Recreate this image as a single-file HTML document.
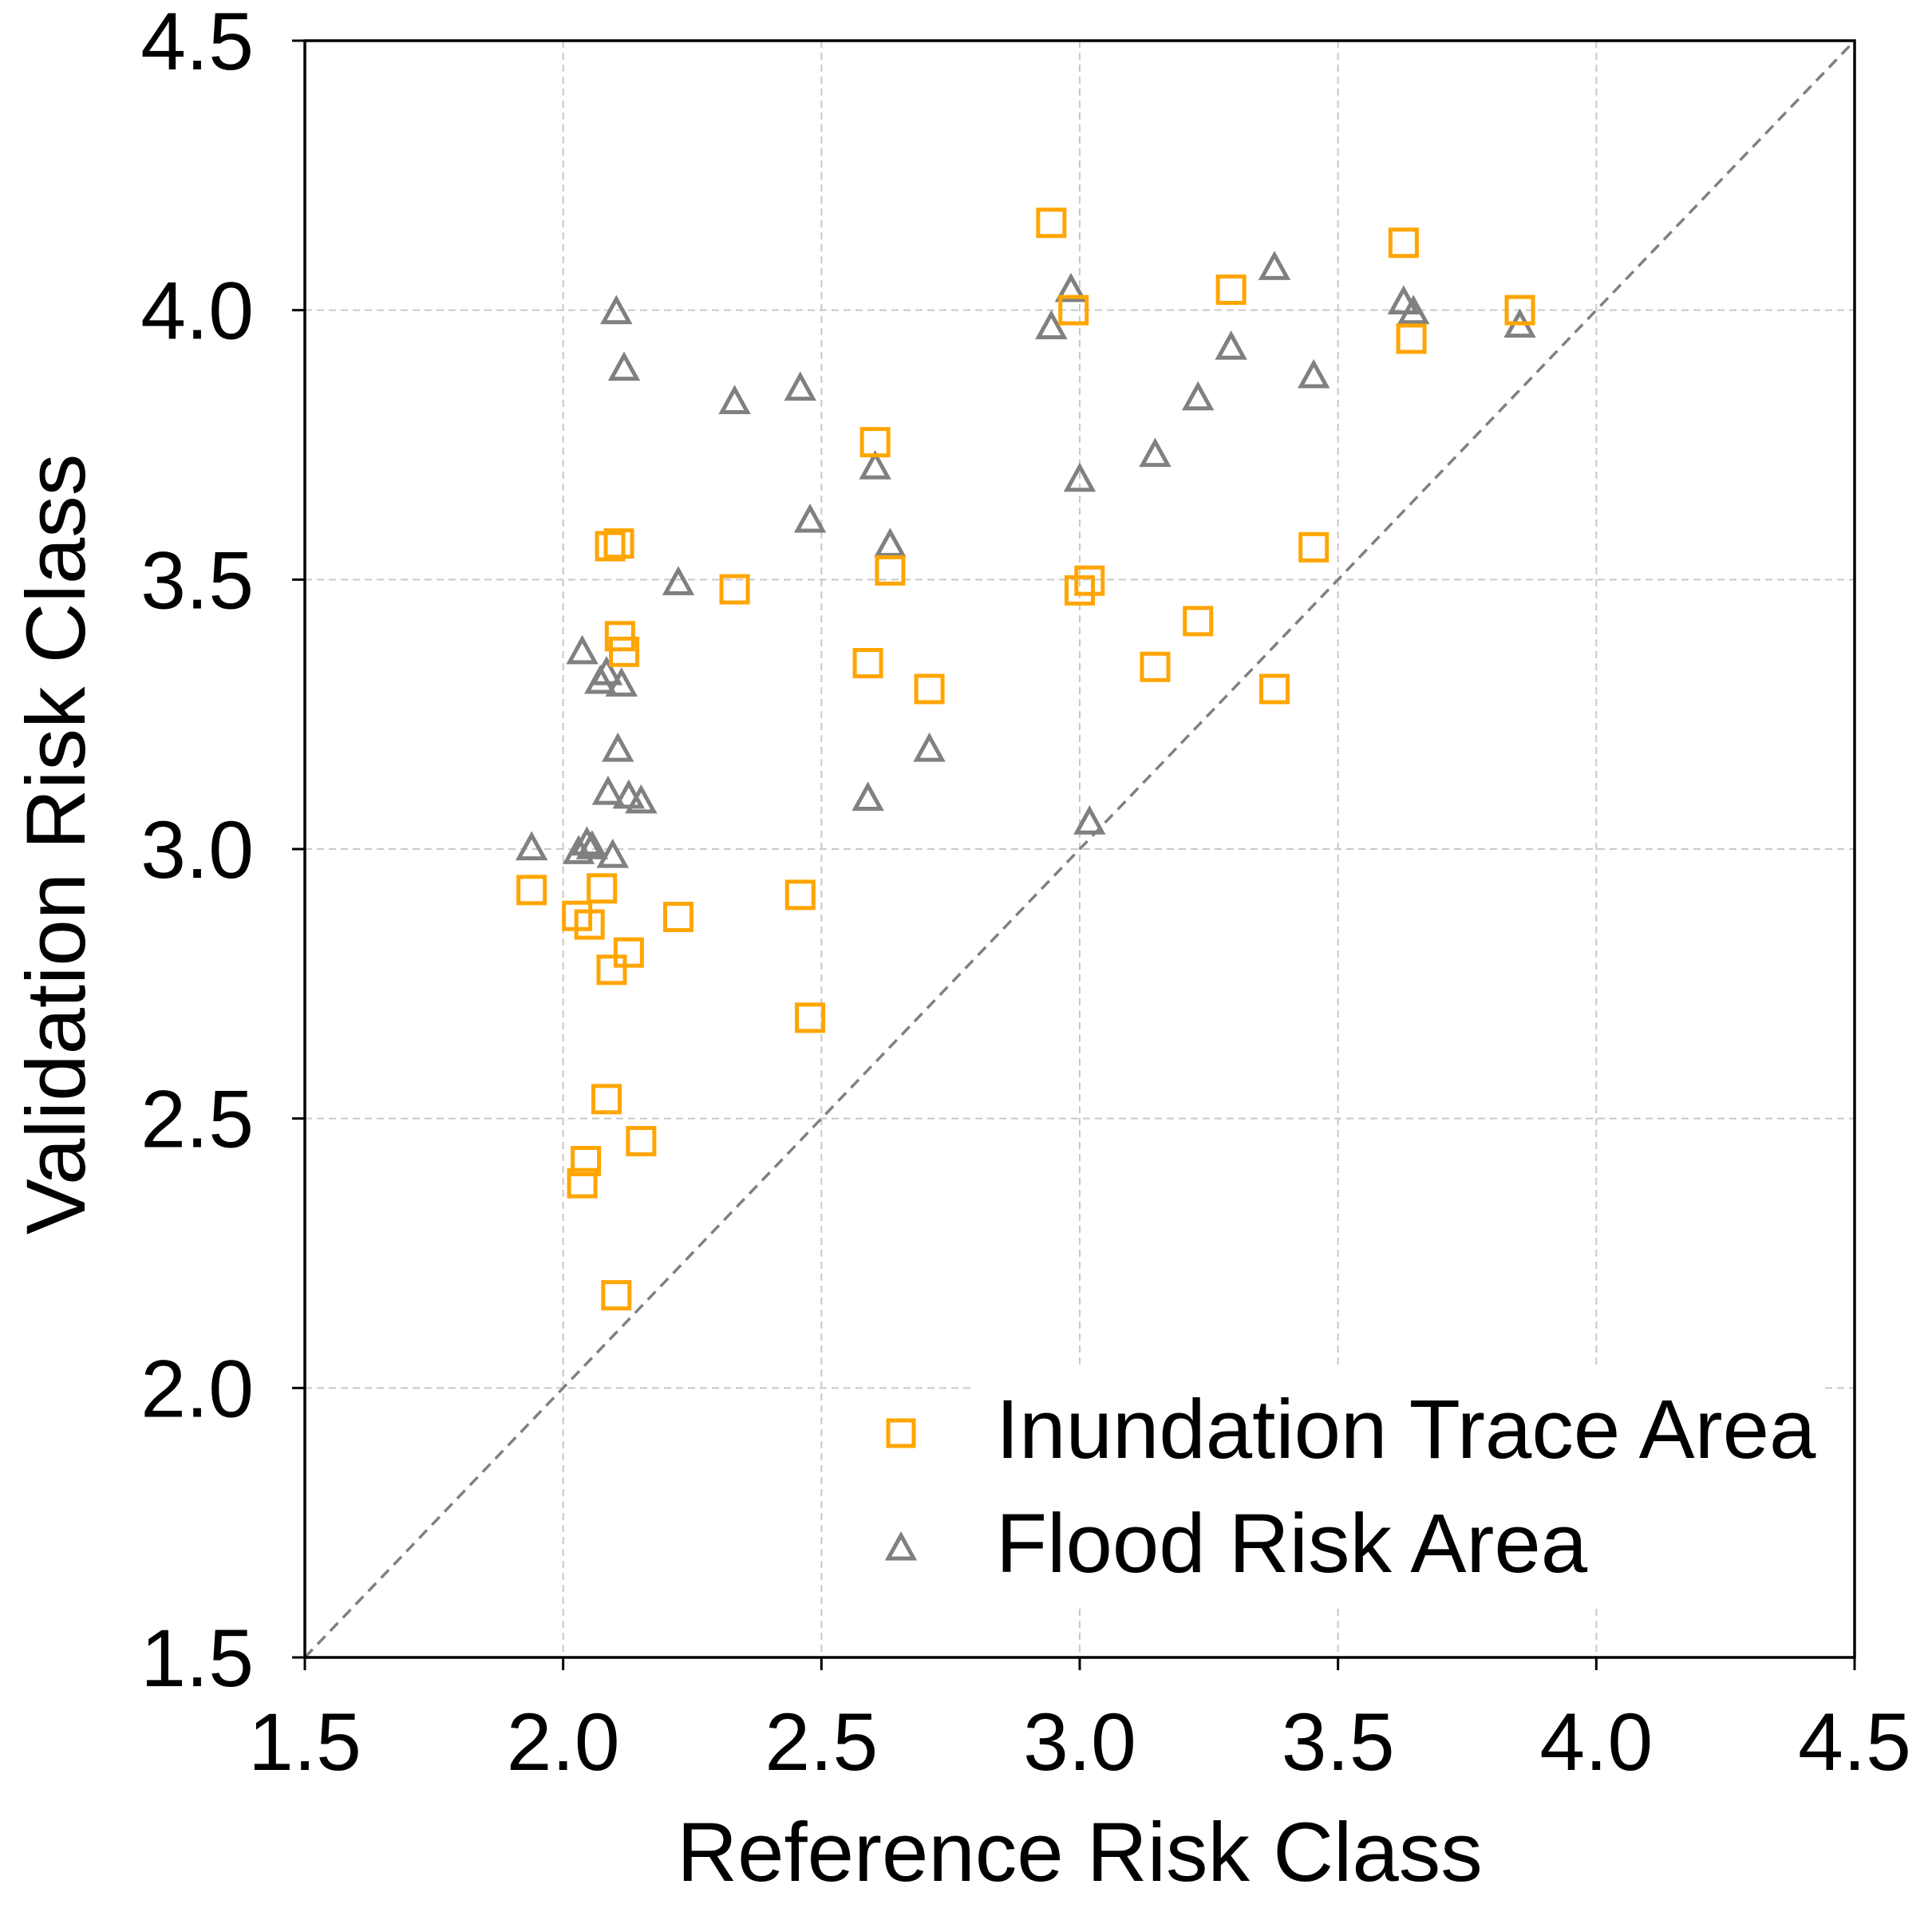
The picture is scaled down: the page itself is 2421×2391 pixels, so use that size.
<!DOCTYPE html>
<html><head><meta charset="utf-8"><style>
html,body{margin:0;padding:0;background:#fff;}
svg text{font-family:"Liberation Sans",Arial,sans-serif;fill:#000;}
</style></head><body>
<svg id="chart" width="2421" height="2386" viewBox="0 0 2421 2386" xmlns="http://www.w3.org/2000/svg">
<g id="grid"></g>
<line x1="382" y1="2077" x2="2324" y2="51" stroke="#808080" stroke-width="3.5" stroke-dasharray="14,9"/>
<rect x="1220" y="1713" width="1065" height="298" fill="#fff"/>
<g id="marks"></g>
<rect x="382" y="51" width="1942" height="2026" fill="none" stroke="#000" stroke-width="3.5"/>
<g id="ticks"></g>
<text x="1353" y="2357" font-size="105" text-anchor="middle">Reference Risk Class</text>
<text transform="translate(106,1058) rotate(-90)" font-size="105" text-anchor="middle">Validation Risk Class</text>
<g>
  <rect x="1113" y="1780" width="32" height="32" fill="none" stroke="#FFA500" stroke-width="5"/>
  <text x="1248" y="1827" font-size="105">Inundation Trace Area</text>
  <polygon points="1129,1924 1145,1953 1113,1953" fill="none" stroke="#808080" stroke-width="5"/>
  <text x="1248" y="1970" font-size="105">Flood Risk Area</text>
</g>
</svg>
<script>
const ticks = [1.5, 2.0, 2.5, 3.0, 3.5, 4.0, 4.5];
const tickLabels = ["1.5","2.0","2.5","3.0","3.5","4.0","4.5"];
const inundationX = [2.945,3.627,3.293,2.988,3.852,3.642,2.604,2.091,2.108,2.332,2.633,3.453,3.0,3.019,2.11,2.118,3.229,2.59,3.146,2.709,3.377,1.939,2.075,2.027,2.051,2.223,2.459,2.094,2.127,2.478,2.084,2.151,2.044,2.037,2.103];
const inundationY = [4.162,4.125,4.038,4.0,4.0,3.947,3.755,3.562,3.567,3.482,3.517,3.56,3.48,3.498,3.395,3.366,3.423,3.345,3.338,3.297,3.297,2.924,2.927,2.876,2.86,2.874,2.915,2.776,2.808,2.687,2.536,2.458,2.421,2.38,2.172];
const floodX = [2.103,2.118,2.332,2.459,2.983,2.945,3.377,3.627,3.646,3.852,3.293,3.453,3.229,3.146,3.0,2.604,2.478,2.633,2.223,2.037,2.072,2.084,2.113,2.106,2.087,2.127,2.151,2.59,2.709,3.019,1.939,2.03,2.046,2.056,2.096];
const floodY = [3.997,3.892,3.83,3.855,4.038,3.969,4.079,4.015,3.997,3.972,3.931,3.878,3.837,3.732,3.686,3.709,3.61,3.565,3.494,3.366,3.311,3.327,3.306,3.185,3.105,3.098,3.089,3.094,3.185,3.05,3.002,2.995,3.011,3.004,2.988];

const NS = "http://www.w3.org/2000/svg";
const X0=382, X1=2324, Y0=2077, Y1=51;
function sx(v){return X0+(v-1.5)/3*(X1-X0);}
function sy(v){return Y0-(v-1.5)/3*(Y0-Y1);}
function mk(tag, attrs, parent){const e=document.createElementNS(NS,tag);for(const k in attrs)e.setAttribute(k,attrs[k]);parent.appendChild(e);return e;}

const grid=document.getElementById('grid'), tk=document.getElementById('ticks'), marks=document.getElementById('marks');
ticks.forEach((t,i)=>{
  if(i>0 && i<ticks.length-1){
    const gv=mk('line',{x1:sx(t),y1:Y1,x2:sx(t),y2:Y0,stroke:'#c8c8c8','stroke-width':2,'stroke-dasharray':'9,6'},grid);
    
    
    const gh=mk('line',{x1:X0,y1:sy(t),x2:X1,y2:sy(t),stroke:'#c8c8c8','stroke-width':2,'stroke-dasharray':'9,6'},grid);
    
    
  }
  const xt=mk('line',{x1:sx(t),y1:Y0,x2:sx(t),y2:Y0+16,stroke:'#000','stroke-width':3},tk);
  
  
  const yt=mk('line',{x1:X0-16,y1:sy(t),x2:X0,y2:sy(t),stroke:'#000','stroke-width':3},tk);
  
  
  const xl=mk('text',{x:sx(t),y:2218,'font-size':102,'text-anchor':'middle'},tk);
  xl.textContent=tickLabels[i];
  
  
  const yl=mk('text',{x:318,y:sy(t)+36,'font-size':102,'text-anchor':'end'},tk);
  yl.textContent=tickLabels[i];
  
  
});
floodX.forEach((v,i)=>{
  const cx=sx(v), cy=sy(floodY[i]);
  const p=mk('polygon',{points:`${cx},${cy-16} ${cx+16},${cy+13} ${cx-16},${cy+13}`,fill:'none',stroke:'#808080','stroke-width':5},marks);
  
  
});
inundationX.forEach((v,i)=>{
  const cx=sx(v), cy=sy(inundationY[i]);
  const r=mk('rect',{x:cx-16.5,y:cy-16.5,width:33,height:33,fill:'none',stroke:'#FFA500','stroke-width':5},marks);
  
  
});
</script>
</body></html>
